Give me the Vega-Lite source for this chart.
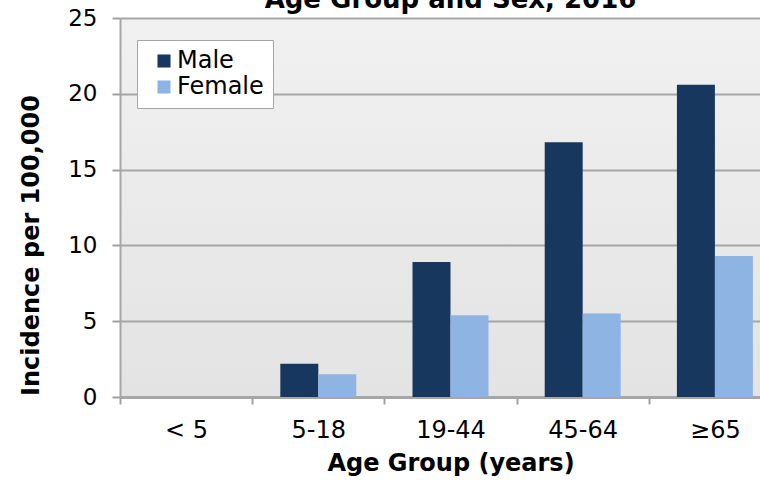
{
  "$schema": "https://vega.github.io/schema/vega-lite/v6.json",
  "autosize": "none",
  "width": 661,
  "height": 379,
  "padding": {"left": 120, "top": 18, "right": 0, "bottom": 84},
  "title": {"text": "Age Group and Sex, 2016", "font": "DejaVu Sans", "fontSize": 26, "fontWeight": "bold", "color": "#000000", "offset": -6, "anchor": "middle"},
  "data": {"values": [
    {"age": "< 5", "sex": "Male", "value": 0},
    {"age": "< 5", "sex": "Female", "value": 0},
    {"age": "5-18", "sex": "Male", "value": 2.2},
    {"age": "5-18", "sex": "Female", "value": 1.5},
    {"age": "19-44", "sex": "Male", "value": 8.9},
    {"age": "19-44", "sex": "Female", "value": 5.4},
    {"age": "45-64", "sex": "Male", "value": 16.8},
    {"age": "45-64", "sex": "Female", "value": 5.5},
    {"age": "≥65", "sex": "Male", "value": 20.6},
    {"age": "≥65", "sex": "Female", "value": 9.3}
  ]},
  "mark": {"type": "bar"},
  "encoding": {
    "x": {"field": "age", "type": "nominal", "sort": ["< 5", "5-18", "19-44", "45-64", "≥65"],
      "scale": {"paddingInner": 0, "paddingOuter": 0},
      "axis": {"title": "Age Group (years)", "labelAngle": 0, "tickBand": "extent", "tickSize": 7, "tickColor": "#a0a0a0", "tickWidth": 2, "domainColor": "#a6a6a6", "domainWidth": 3, "labelFontSize": 24, "labelPadding": 14, "titleFontSize": 24, "titlePadding": 9}},
    "xOffset": {"field": "sex", "type": "nominal", "sort": ["Male", "Female"], "scale": {"paddingInner": 0, "paddingOuter": 0.74}},
    "y": {"field": "value", "type": "quantitative", "scale": {"domain": [0, 25]},
      "axis": {"title": "Incidence per 100,000", "values": [0, 5, 10, 15, 20, 25], "tickSize": 8, "tickColor": "#a0a0a0", "tickWidth": 2, "domainColor": "#a6a6a6", "domainWidth": 2, "labelFontSize": 23, "labelPadding": 15, "titleX": -77, "titleY": 227, "titleFontSize": 24, "gridColor": "#a6a6a6", "gridWidth": 2}},
    "color": {"field": "sex", "type": "nominal", "sort": ["Male", "Female"],
      "scale": {"domain": ["Male", "Female"], "range": ["#17375E", "#8EB4E3"]},
      "legend": {"title": null, "orient": "none", "legendX": 17, "legendY": 22, "fillColor": "#ffffff", "strokeColor": "#a6a6a6", "padding": 9, "symbolOffset": 6, "symbolType": "square", "symbolSize": 170, "symbolStrokeWidth": 0, "labelFontSize": 24, "labelFont": "DejaVu Sans", "labelColor": "#000000", "rowPadding": 2, "labelOffset": 1, "labelLimit": 200}}
  },
  "config": {
    "font": "DejaVu Sans",
    "view": {"fill": {"gradient": "linear", "x1": 0, "y1": 0, "x2": 0, "y2": 1, "stops": [{"offset": 0, "color": "#f1f1f1"}, {"offset": 1, "color": "#e3e3e3"}]}, "stroke": null},
    "axis": {"labelFont": "DejaVu Sans", "labelColor": "#000000", "titleFont": "DejaVu Sans", "titleFontWeight": "bold", "titleColor": "#000000"},
    "axisX": {"grid": false},
    "axisY": {"grid": true}
  }
}
